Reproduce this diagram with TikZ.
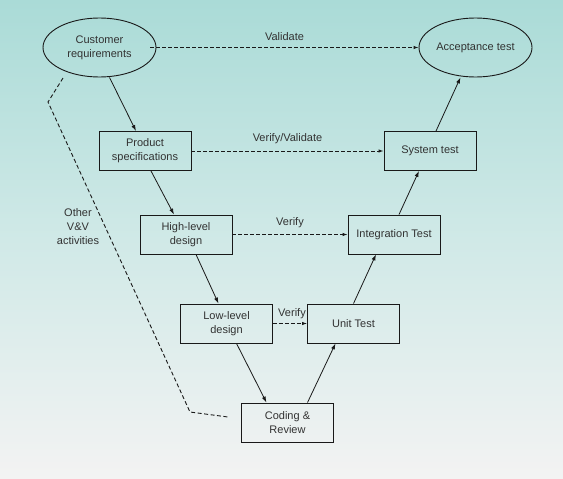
\documentclass[tikz,border=0pt]{standalone}
\usepackage{fontspec}
\setmainfont{Liberation Sans}
\usetikzlibrary{shapes.geometric,arrows.meta}
\definecolor{bgtop}{RGB}{170,219,215}
\definecolor{bgmid}{RGB}{208,233,231}
\definecolor{bgbot}{RGB}{243,243,243}
\definecolor{ink}{RGB}{25,25,25}
\definecolor{txt}{RGB}{50,50,50}
\begin{document}
\begin{tikzpicture}[x=1pt,y=-1pt,
    every node/.style={font=\fontsize{11}{14}\selectfont,text=txt,align=center},
    oval/.style={ellipse,draw=ink,line width=0.9pt,minimum width=113pt,minimum height=59pt,inner sep=0pt},
    stage/.style={rectangle,draw=ink,line width=0.9pt,minimum width=92pt,minimum height=39pt,inner sep=0pt},
    flow/.style={draw=ink,line width=0.8pt,-{Latex[length=6pt,width=4pt]}},
    check/.style={draw=ink,line width=0.9pt,dash pattern=on 4pt off 2pt,-{Latex[length=5pt,width=3.5pt]}},
    vv/.style={draw=ink,line width=0.9pt,dash pattern=on 4pt off 2.5pt}]
      \useasboundingbox (0,0) rectangle (563,479);
      \shade[top color=bgtop,bottom color=bgbot,middle color=bgmid] (0,0) rectangle (563,479);
      \draw
        (99.5,47.5) node[oval] (cust){Customer\\requirements}
        (475.5,47.5) node[oval] (acc){Acceptance test}
        (145,151) node[stage] (prod){Product\\specifications}
        (430,151) node[stage] (sys){System test}
        (186,234.5) node[stage] (high){High-level\\design}
        (394,234.5) node[stage] (integ){Integration Test}
        (226.5,323.5) node[stage] (low){Low-level\\design}
        (353.5,323.5) node[stage] (unit){Unit Test}
        (287.5,422.5) node[stage] (code){Coding \&\\Review};
      \coordinate (v1) at (63,78);
      \coordinate (v2) at (48,102);
      \coordinate (v3) at (190,412);
      \coordinate (v4) at (228,417);
      \node (other) at (78,227) {Other\\V\&V\\activities};
      \begin{scope}[flow]
        \draw ([xshift=10]cust.south) to ([xshift=-9]prod.north);
        \draw ([xshift=6]prod.south) to ([xshift=-12]high.north);
        \draw ([xshift=10]high.south) to ([xshift=-8]low.north);
        \draw ([xshift=10]low.south) to ([xshift=-21]code.north);
        \draw ([xshift=20]code.north) to ([xshift=-18]unit.south);
        \draw (unit.north) to ([xshift=-18]integ.south);
        \draw ([xshift=5]integ.north) to ([xshift=-11]sys.south);
        \draw ([xshift=6]sys.north) to ([xshift=-15]acc.south);
      \end{scope}
      \begin{scope}[check]
        \draw ([xshift=-6]cust.east) to node[above=3pt]{Validate} (acc.west);
        \draw (prod.east) to node[above=3pt]{Verify/Validate} (sys.west);
        \draw (high.east) to node[above=3pt]{Verify} (integ.west);
        \draw (low.east) to node[above=1pt,xshift=2pt]{Verify} (unit.west);
      \end{scope}
      \draw[vv] (v1) -- (v2) -- (v3) -- (v4);
    \end{tikzpicture}
\end{document}
